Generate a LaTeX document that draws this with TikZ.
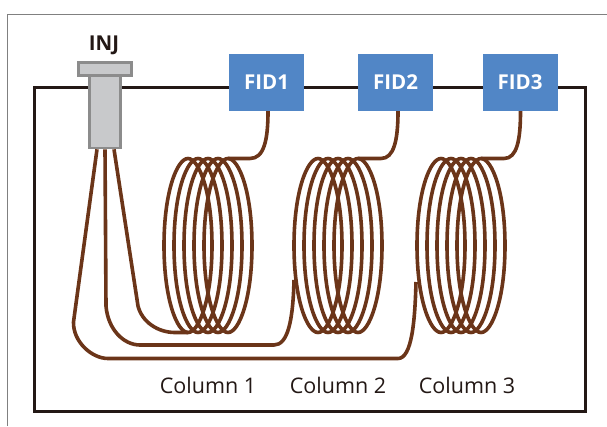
\documentclass[tikz,border=0pt]{standalone}
\usepackage{fontspec}
\setmainfont{Open Sans}
\definecolor{tubebrown}{HTML}{6B3519}
\definecolor{ovenblack}{HTML}{231815}
\definecolor{fidblue}{HTML}{5186C6}
\definecolor{injgrey}{HTML}{C8C9CB}
\definecolor{injedge}{HTML}{8C8C8C}
\begin{document}
\begin{tikzpicture}[x=1pt, y=-1pt]
        \tikzstyle{tube} = [draw=tubebrown, line width=3.6pt]
        \tikzstyle{injpart} = [shape=rectangle, draw=injedge, fill=injgrey, line width=2.6pt, inner sep=0pt]
        \tikzstyle{fid} = [shape=rectangle, fill=fidblue, text=white, minimum width=75pt, minimum height=57pt, inner sep=0pt, font=\fontsize{20.5}{20}\selectfont\bfseries]
        \tikzstyle{collabel} = [font=\fontsize{21.5}{22}\selectfont, text=ovenblack]

        \useasboundingbox (0, 0) rectangle (607, 426);

        \draw[draw=gray, line width=1pt] (7.5, 426) -- (7.5, 14) -- (607, 14);
        \draw[draw=ovenblack, line width=3pt] (34, 87.5) rectangle (585, 411.5);

        \foreach \cx in {188, 198, 208, 218, 228,
                         318, 328, 338, 348, 358,
                         441, 451, 461, 471, 481}
            \draw[tube] (\cx, 158.5)
                .. controls (\cx-11, 158.5) and (\cx-24, 192) .. (\cx-24, 245.5)
                .. controls (\cx-24, 299) and (\cx-11, 332.5) .. (\cx, 332.5)
                .. controls (\cx+11, 332.5) and (\cx+24, 299) .. (\cx+24, 245.5)
                .. controls (\cx+24, 192) and (\cx+11, 158.5) .. cycle;

        \node[injpart, minimum width=31pt, minimum height=72pt] (body) at (105, 112) {};
        \node[injpart, minimum width=53pt, minimum height=13pt] (flange) at (105, 69) {};
        \node[font=\fontsize{20.5}{20}\selectfont\bfseries, text=ovenblack] (inj) at (104, 45) {INJ};

        \node[fid] (fid1) at (266.5, 82.5) {FID1};
        \node[fid] (fid2) at (395.5, 82.5) {FID2};
        \node[fid] (fid3) at (520, 82.5) {FID3};

        \coordinate (top1) at (228, 158.5);
        \coordinate (top2) at (358, 158.5);
        \coordinate (top3) at (481, 158.5);
        \coordinate (bottom1) at (188, 332.5);
        \coordinate (inlet2) at (294, 280);
        \coordinate (inlet3) at (416, 282);

        \draw[tube] ([xshift=1.5pt]fid1.south) .. controls (268, 140) and (264, 158.5) .. (250, 158.5) -- (top1);
        \draw[tube] ([xshift=2.5pt]fid2.south) .. controls (398, 140) and (394, 158.5) .. (381, 158.5) -- (top2);
        \draw[tube] ([xshift=0.5pt]fid3.south) .. controls (520.5, 140) and (517, 158.5) .. (504, 158.5) -- (top3);

        \draw[tube] ([xshift=9pt]body.south) -- (138, 306)
            .. controls (142, 322) and (158, 332.5) .. (175, 332.5) -- (bottom1);
        \draw[tube] (body.south) -- (106, 306)
            .. controls (108, 330) and (124, 345) .. (140, 345)
            -- (274, 345) .. controls (288, 345) and (293, 320) .. (inlet2);
        \draw[tube] ([xshift=-8pt]body.south) -- (73.5, 322)
            .. controls (73, 342) and (92, 358.5) .. (108, 358.5)
            -- (398, 358.5) .. controls (412, 358.5) and (415, 320) .. (inlet3);

        \node[collabel] (col1) at (208, 385) {Column 1};
        \node[collabel] (col2) at (338, 385) {Column 2};
        \node[collabel] (col3) at (467, 385) {Column 3};
\end{tikzpicture}
\end{document}
